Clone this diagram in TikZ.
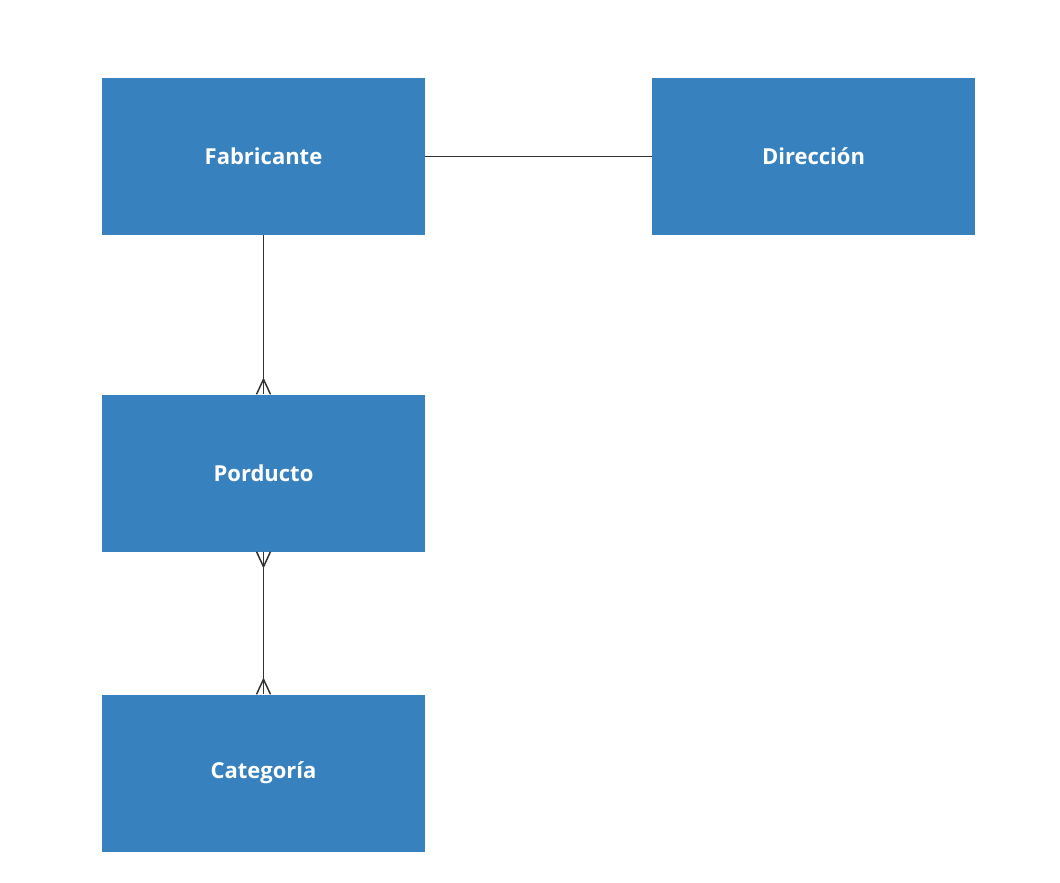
\documentclass[tikz,border=0pt]{standalone}
\usepackage{fontspec}
\setmainfont{Open Sans}
\definecolor{boxblue}{RGB}{55,130,190}
\definecolor{linegray}{RGB}{51,51,51}
\begin{document}
\begin{tikzpicture}[x=1pt,y=-1pt,
  entity/.style={fill=boxblue,draw=none,minimum width=323pt,minimum height=157pt,inner sep=0pt,text=white,font=\fontsize{22}{26}\selectfont\bfseries},
  conn/.style={draw=linegray,line width=1.5pt}]
\useasboundingbox (0,0) rectangle (1060,883);
\fill[white] (0,0) rectangle (1060,883);
\node[entity] (fab) at (263.5,156.5) {Fabricante};
\node[entity] (dir) at (813.5,156.5) {Dirección};
\node[entity] (prod) at (263.5,473) {Porducto};
\node[entity] (cat) at (263.5,773) {Categoría};
\draw[conn] (fab.east) -- (dir.west);
\draw[conn] (fab.south) -- (prod.north);
\draw[conn] (prod.south) -- (cat.north);
% crow's feet
\draw[conn] (prod.north) ++(-7,0) -- ++(7,-15) -- ++(7,15);
\draw[conn] (prod.south) ++(-7,0) -- ++(7,15) -- ++(7,-15);
\draw[conn] (cat.north) ++(-7,0) -- ++(7,-15) -- ++(7,15);
\end{tikzpicture}
\end{document}
